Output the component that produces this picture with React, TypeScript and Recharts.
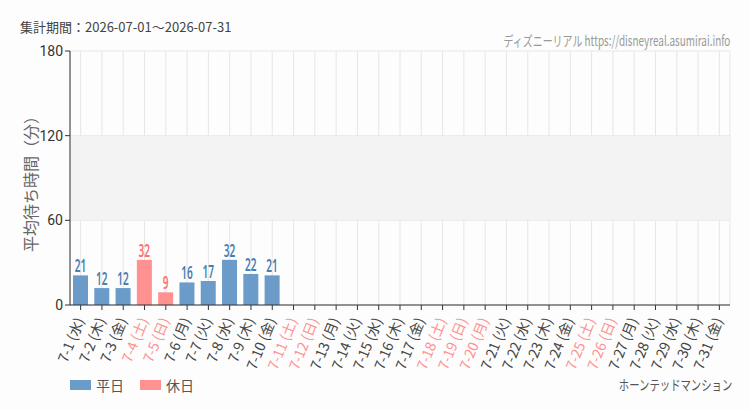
import React from "react";
import { Bar, BarChart, CartesianGrid, LabelList, ReferenceArea, XAxis, YAxis } from "recharts";

const days = [
  "7-1", "7-2", "7-3", "7-4", "7-5", "7-6", "7-7", "7-8", "7-9", "7-10",
  "7-11", "7-12", "7-13", "7-14", "7-15", "7-16", "7-17", "7-18", "7-19", "7-20",
  "7-21", "7-22", "7-23", "7-24", "7-25", "7-26", "7-27", "7-28", "7-29", "7-30", "7-31",
];
const weekdays = [
  "水", "木", "金", "土", "日", "月", "火", "水", "木", "金",
  "土", "日", "月", "火", "水", "木", "金", "土", "日", "月",
  "火", "水", "木", "金", "土", "日", "月", "火", "水", "木", "金",
];
const holidays = ["7-4", "7-5", "7-11", "7-12", "7-18", "7-19", "7-20", "7-25", "7-26"];
const waits: (number | null)[] = [21, 12, 12, 32, 9, 16, 17, 32, 22, 21];
const yTicks = [0, 60, 120, 180];

const BLUE = "#6b9bc8";
const PINK = "#ff9191";
const JP = "'Noto Sans CJK JP', sans-serif";

const data = days.map((d, i) => {
  const v = i < waits.length ? waits[i] : null;
  const hol = holidays.includes(d);
  return {
    day: d,
    wd: weekdays[i],
    heijitsu: hol ? null : v,
    kyujitsu: hol ? v : null,
  };
});

function DayTick(props: any) {
  const { x, y, payload } = props;
  const row = data[payload.index];
  const hol = holidays.includes(payload.value);
  return (
    <text
      x={x + 4}
      y={y + 8}
      transform={`rotate(-68 ${x + 4} ${y + 8})`}
      textAnchor="end"
      fontSize={14}
      fontFamily={JP}
      fill={hol ? PINK : "#444"}
    >
      {`${payload.value} (${row.wd})`}
    </text>
  );
}

const narrowLabel = (color: string) => (props: any) => {
  const { x, y, width, value } = props;
  if (value == null) return null;
  const cx = x + width / 2;
  const cy = y - 3;
  return (
    <text
      transform={`translate(${cx} ${cy}) scale(0.56 1)`}
      textAnchor="middle"
      fontSize={18}
      fontWeight={600}
      fontFamily="'Noto Sans', sans-serif"
      fill={color}
    >
      {value}
    </text>
  );
};

export default function App() {
  return (
    <div style={{ position: "absolute", left: 0, top: 0, width: 750, height: 410, background: "#fcfdfc" }}>
      <div style={{ position: "absolute", left: 20, top: 17, fontSize: 13, fontFamily: JP, color: "#444" }}>
        集計期間：2026-07-01～2026-07-31
      </div>
      <div
        style={{
          position: "absolute",
          right: 20,
          top: 30,
          fontSize: 14,
          fontFamily: JP,
          color: "#999",
          whiteSpace: "nowrap",
          transform: "scaleX(0.71)",
          transformOrigin: "right center",
        }}
      >
        ディズニーリアル https://disneyreal.asumirai.info
      </div>
      <BarChart
        width={750}
        height={410}
        data={data}
        margin={{ top: 51, right: 20, bottom: 45, left: 20 }}
        style={{ position: "absolute", left: 0, top: 0 }}
      >
        <ReferenceArea y1={60} y2={120} fill="#f3f3f3" fillOpacity={1} stroke="none" ifOverflow="hidden" />
        <CartesianGrid stroke="#e6e6e6" />
        <XAxis
          dataKey="day"
          interval={0}
          height={60}
          tick={<DayTick />}
          tickSize={5}
          axisLine={{ stroke: "#333" }}
          tickLine={{ stroke: "#333" }}
        />
        <YAxis
          width={50}
          domain={[0, 180]}
          ticks={yTicks}
          tickSize={5}
          axisLine={{ stroke: "#333" }}
          tickLine={{ stroke: "#333" }}
          tick={{ fontSize: 14, fill: "#333", fontFamily: "Roboto, sans-serif" }}
        />
        <Bar dataKey="heijitsu" stackId="a" fill={BLUE} barSize={15} isAnimationActive={false}>
          <LabelList dataKey="heijitsu" content={narrowLabel("#4a7fb5")} />
        </Bar>
        <Bar dataKey="kyujitsu" stackId="a" fill={PINK} barSize={15} isAnimationActive={false}>
          <LabelList dataKey="kyujitsu" content={narrowLabel("#ff7070")} />
        </Bar>
      </BarChart>
      <svg width={60} height={200} style={{ position: "absolute", left: 0, top: 80 }}>
        <text
          x={37}
          y={100}
          transform="rotate(-90 37 100)"
          textAnchor="middle"
          fontSize={16}
          fontFamily={JP}
          fill="#666"
        >
          平均待ち時間（分）
        </text>
      </svg>
      <div style={{ position: "absolute", left: 70, top: 375, display: "flex", alignItems: "center", fontFamily: JP, fontSize: 14, color: "#555" }}>
        <span style={{ width: 21, height: 10, background: BLUE, display: "inline-block", marginRight: 5 }} />
        <span style={{ marginRight: 16 }}>平日</span>
        <span style={{ width: 21, height: 10, background: PINK, display: "inline-block", marginRight: 5 }} />
        <span>休日</span>
      </div>
      <div
        style={{
          position: "absolute",
          right: 18,
          top: 374,
          fontSize: 14,
          fontFamily: JP,
          color: "#555",
          whiteSpace: "nowrap",
          transform: "scaleX(0.74)",
          transformOrigin: "right center",
        }}
      >
        ホーンテッドマンション
      </div>
    </div>
  );
}
